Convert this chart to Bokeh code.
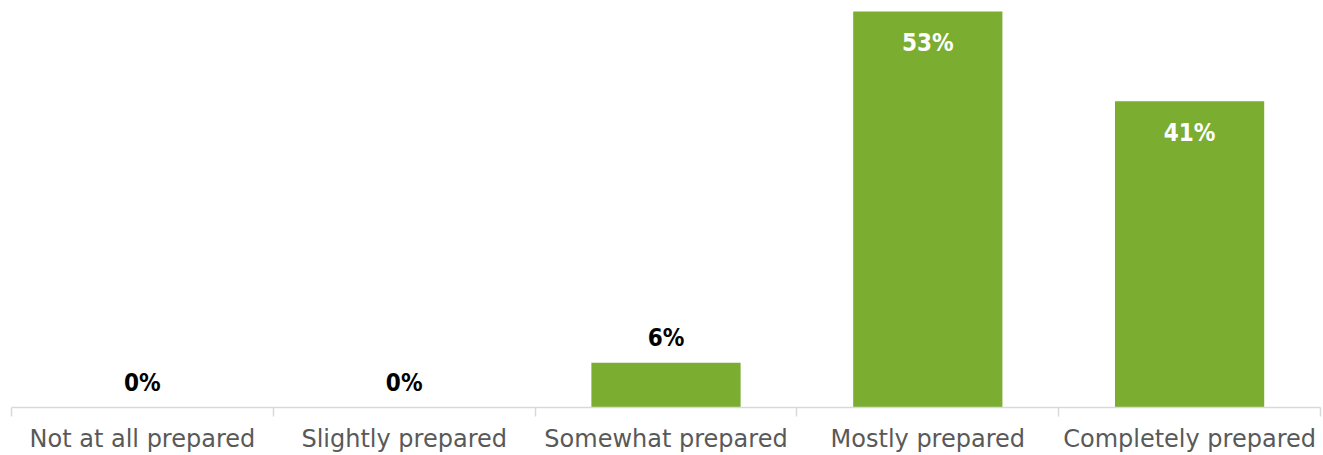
from bokeh.plotting import figure
from bokeh.models import ColumnDataSource, FixedTicker, Range1d, LinearAxis
from bokeh.core.properties import value
from bokeh.embed import file_html
from bokeh.resources import INLINE

categories = ["Not at all prepared", "Slightly prepared", "Somewhat prepared",
              "Mostly prepared", "Completely prepared"]
values = [0, 0, 6, 53, 41]
labels = ["0%", "0%", "6%", "53%", "41%"]

BAR = "#7AAD30"
LABEL_FONT = "DejaVu Sans"
VALUE_FONT = "DejaVu Sans Condensed"

n = len(categories)
xs = [i + 0.5 for i in range(n)]
inside = [v >= 20 for v in values]

out_src = ColumnDataSource(dict(x=[x for x, ins in zip(xs, inside) if not ins],
                                y=[v for v, ins in zip(values, inside) if not ins],
                                t=[l for l, ins in zip(labels, inside) if not ins]))
in_src = ColumnDataSource(dict(x=[x for x, ins in zip(xs, inside) if ins],
                               y=[v for v, ins in zip(values, inside) if ins],
                               t=[l for l, ins in zip(labels, inside) if ins]))
bar_src = ColumnDataSource(dict(x=xs, top=values))

p = figure(width=1323, height=455, output_backend="svg", toolbar_location=None,
           x_range=Range1d(0, n), y_range=Range1d(0, 53.4),
           x_axis_location=None, y_axis_location=None,
           min_border_left=11, min_border_right=3, min_border_top=8, min_border_bottom=47)
p.outline_line_color = None
p.xgrid.visible = False
p.ygrid.visible = False
p.background_fill_color = "white"
p.border_fill_color = "white"

p.vbar(x="x", top="top", bottom=0, width=0.57, source=bar_src,
       fill_color=BAR, line_color=None)

p.text(x="x", y="y", text="t", source=out_src, text_font=value(VALUE_FONT),
       text_font_style="bold", text_font_size="24px", text_color="black",
       text_align="center", text_baseline="middle", y_offset=-25)
p.text(x="x", y="y", text="t", source=in_src, text_font=value(VALUE_FONT),
       text_font_style="bold", text_font_size="24px", text_color="white",
       text_align="center", text_baseline="middle", y_offset=32)

ax = LinearAxis(ticker=FixedTicker(ticks=xs, minor_ticks=list(range(n + 1))))
ax.major_label_overrides = {x: c for x, c in zip(xs, categories)}
ax.axis_line_color = "#D9D9D9"
ax.axis_line_width = 1.5
ax.major_tick_line_color = None
ax.major_tick_out = 0
ax.major_tick_in = 0
ax.minor_tick_line_color = "#D9D9D9"
ax.minor_tick_line_width = 1.5
ax.minor_tick_out = 9
ax.minor_tick_in = 0
ax.major_label_text_font = LABEL_FONT
ax.major_label_text_font_size = "24px"
ax.major_label_text_color = "#595959"
ax.major_label_standoff = 8
p.add_layout(ax, "below")

open("out.html", "w").write(file_html(p, INLINE))
